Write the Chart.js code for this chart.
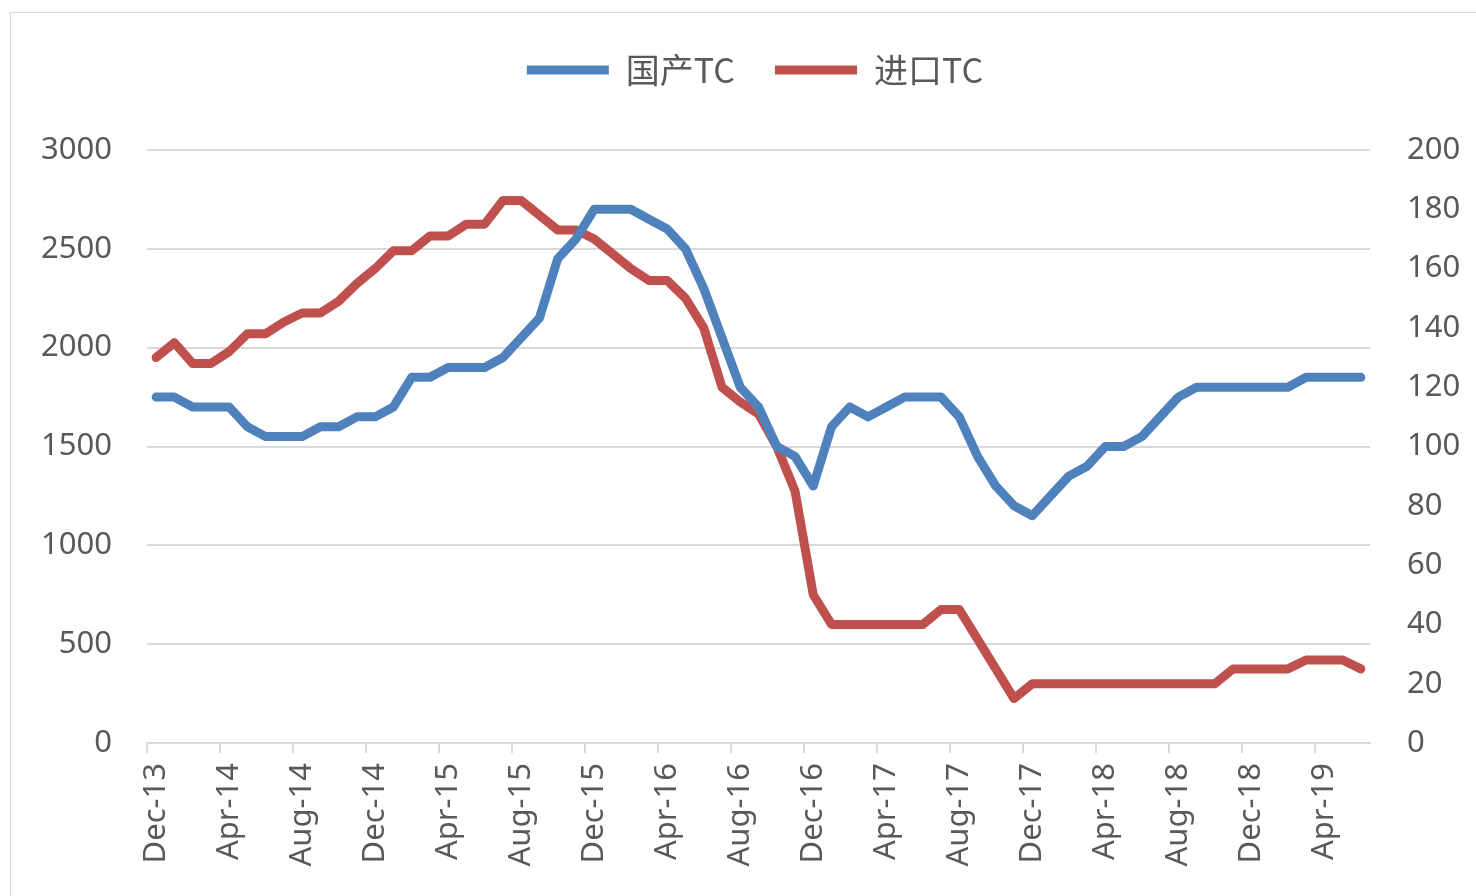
<!DOCTYPE html>
<html>
<head>
<meta charset="utf-8">
<script src="https://cdn.jsdelivr.net/npm/chart.js@4.4.1/dist/chart.umd.min.js"></script>
<style>
    html, body { margin: 0; padding: 0; background: #ffffff; }
    #wrap { position: relative; width: 1476px; height: 896px; }
</style>
</head>
<body>
<div id="wrap"><canvas id="tcChart"></canvas></div>
<script>
// months, Dec-13 .. Jun-19
const months = [
    'Dec-13',
    'Jan-14', 'Feb-14', 'Mar-14', 'Apr-14', 'May-14', 'Jun-14', 'Jul-14', 'Aug-14', 'Sep-14', 'Oct-14', 'Nov-14', 'Dec-14',
    'Jan-15', 'Feb-15', 'Mar-15', 'Apr-15', 'May-15', 'Jun-15', 'Jul-15', 'Aug-15', 'Sep-15', 'Oct-15', 'Nov-15', 'Dec-15',
    'Jan-16', 'Feb-16', 'Mar-16', 'Apr-16', 'May-16', 'Jun-16', 'Jul-16', 'Aug-16', 'Sep-16', 'Oct-16', 'Nov-16', 'Dec-16',
    'Jan-17', 'Feb-17', 'Mar-17', 'Apr-17', 'May-17', 'Jun-17', 'Jul-17', 'Aug-17', 'Sep-17', 'Oct-17', 'Nov-17', 'Dec-17',
    'Jan-18', 'Feb-18', 'Mar-18', 'Apr-18', 'May-18', 'Jun-18', 'Jul-18', 'Aug-18', 'Sep-18', 'Oct-18', 'Nov-18', 'Dec-18',
    'Jan-19', 'Feb-19', 'Mar-19', 'Apr-19', 'May-19', 'Jun-19'
];

// 国产TC (left axis)
const domesticTC = [
    1750, 1750, 1700, 1700, 1700, 1600, 1550, 1550, 1550, 1600, 1600, 1650, 1650,
    1700, 1850, 1850, 1900, 1900, 1900, 1950, 2050, 2150, 2450, 2550, 2700,
    2700, 2700, 2650, 2600, 2500, 2300, 2050, 1800, 1700, 1500, 1450, 1300,
    1600, 1700, 1650, 1700, 1750, 1750, 1750, 1650, 1450, 1300, 1200, 1150,
    1250, 1350, 1400, 1500, 1500, 1550, 1650, 1750, 1800, 1800, 1800, 1800,
    1800, 1800, 1850, 1850, 1850, 1850
];

// 进口TC (right axis)
const importTC = [
    130, 135, 128, 128, 132, 138, 138, 142, 145, 145, 149, 155, 160,
    166, 166, 171, 171, 175, 175, 183, 183, 178, 173, 173, 170,
    165, 160, 156, 156, 150, 140, 120, 115, 111, 100, 85, 50,
    40, 40, 40, 40, 40, 40, 45, 45, 35, 25, 15, 20,
    20, 20, 20, 20, 20, 20, 20, 20, 20, 20, 25, 25,
    25, 25, 28, 28, 28, 25
];

const leftTicks = { min: 0, max: 3000, step: 500 };
const rightTicks = { min: 0, max: 200, step: 20 };
const labelEvery = 4;

const TEXT = '#595959';
const GRID = '#d9d9d9';
const FONT = '"Noto Sans", "DejaVu Sans", sans-serif';

// white page + thin frame like the pasted Excel chart
const frame = {
    id: 'frame',
    beforeDraw(chart) {
        const ctx = chart.ctx;
        ctx.save();
        ctx.fillStyle = '#ffffff';
        ctx.fillRect(0, 0, chart.width, chart.height);
        ctx.strokeStyle = GRID;
        ctx.lineWidth = 1;
        ctx.strokeRect(10.5, 12.5, chart.width - 4, chart.height);
        ctx.restore();
    }
};

// fixed legend band height so the plot top lands on 3000
const legendBand = {
    id: 'legendBand',
    afterInit(chart) {
        const fit = chart.legend.fit;
        chart.legend.fit = function () {
            fit.call(this);
            this.height = 137;
        };
    }
};

// only every 4th month gets a tick mark
const everyFourth = (c) => (c.index % labelEvery === 0 ? GRID : 'rgba(0,0,0,0)');

new Chart(document.getElementById('tcChart'), {
    type: 'line',
    data: {
        labels: months,
        datasets: [{
            label: '国产TC',
            data: domesticTC,
            yAxisID: 'y',
            borderColor: '#4f81bd',
            backgroundColor: '#4f81bd',
            borderWidth: 9,
            borderCapStyle: 'round',
            borderJoinStyle: 'round',
            pointRadius: 0,
            tension: 0
        }, {
            label: '进口TC',
            data: importTC,
            yAxisID: 'y1',
            borderColor: '#c0504d',
            backgroundColor: '#c0504d',
            borderWidth: 9,
            borderCapStyle: 'round',
            borderJoinStyle: 'round',
            pointRadius: 0,
            tension: 0
        }]
    },
    options: {
        responsive: true,
        maintainAspectRatio: false,
        animation: false,
        layout: { padding: { left: 34, right: 0, top: 13, bottom: 0 } },
        plugins: {
            tooltip: { enabled: false },
            legend: {
                position: 'top',
                labels: {
                    usePointStyle: true,
                    pointStyle: 'line',
                    pointStyleWidth: 82,
                    padding: 40,
                    color: TEXT,
                    font: { family: '"Noto Sans CJK SC", "Noto Sans", sans-serif', size: 34 }
                }
            }
        },
        scales: {
            x: {
                offset: true,
                grid: {
                    offset: true,
                    drawOnChartArea: false,
                    drawTicks: true,
                    tickLength: 10,
                    color: everyFourth,
                    tickColor: everyFourth,
                    lineWidth: 2
                },
                border: { display: true, color: GRID, width: 2 },
                ticks: {
                    autoSkip: false,
                    minRotation: 90,
                    maxRotation: 90,
                    padding: 10,
                    color: TEXT,
                    font: { family: FONT, size: 31 },
                    callback: (v, i) => (i % labelEvery === 0 ? months[i] : '')
                },
                afterFit: (s) => { s.height = 153; }
            },
            y: {
                position: 'left',
                min: leftTicks.min,
                max: leftTicks.max,
                grid: { color: GRID, lineWidth: 2, drawTicks: false },
                border: { display: false },
                ticks: {
                    stepSize: leftTicks.step,
                    padding: 35,
                    color: TEXT,
                    font: { family: FONT, size: 31 },
                    callback: (v) => String(v)
                },
                afterFit: (s) => { s.width = 113; }
            },
            y1: {
                position: 'right',
                min: rightTicks.min,
                max: rightTicks.max,
                grid: { drawOnChartArea: false, drawTicks: false },
                border: { display: false },
                ticks: {
                    stepSize: rightTicks.step,
                    padding: 37,
                    color: TEXT,
                    font: { family: FONT, size: 31 },
                    callback: (v) => String(v)
                },
                afterFit: (s) => { s.width = 106; }
            }
        }
    },
    plugins: [frame, legendBand]
});
</script>
</body>
</html>
